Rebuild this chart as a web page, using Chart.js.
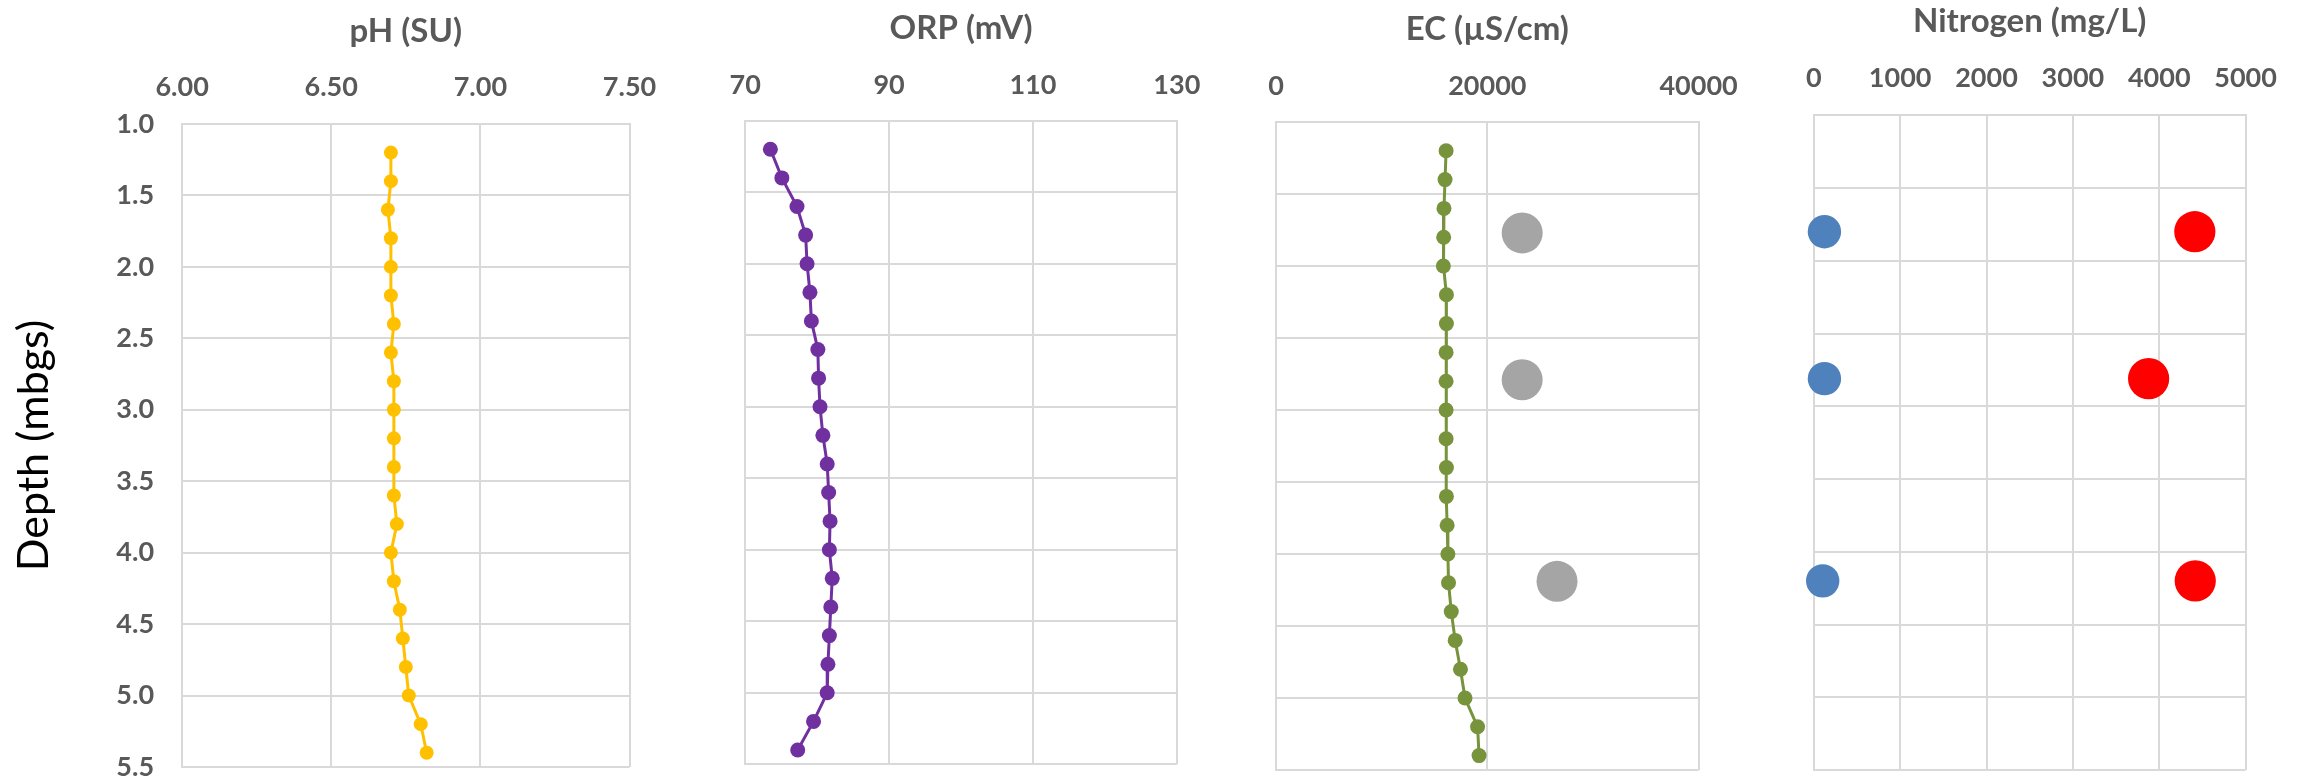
<!DOCTYPE html>
<html>
<head>
<meta charset="utf-8">
<script src="https://cdn.jsdelivr.net/npm/chart.js@4.4.1/dist/chart.umd.min.js"></script>
<style>
  html, body { margin: 0; padding: 0; background: #ffffff; width: 2303px; height: 781px; overflow: hidden; }
  canvas { position: absolute; top: 0; }
</style>
</head>
<body>
<canvas id="phChart" width="788" height="781" style="left:0px;width:788px;height:781px"></canvas>
<canvas id="orpChart" width="500" height="781" style="left:716px;width:500px;height:781px"></canvas>
<canvas id="ecChart" width="500" height="781" style="left:1255px;width:500px;height:781px"></canvas>
<canvas id="nChart" width="480" height="781" style="left:1803px;width:480px;height:781px"></canvas>
<script>
// ---------------- DATA ----------------
const depths = [1.2, 1.4, 1.6, 1.8, 2.0, 2.2, 2.4, 2.6, 2.8, 3.0, 3.2, 3.4, 3.6, 3.8, 4.0, 4.2, 4.4, 4.6, 4.8, 5.0, 5.2, 5.4];
const phValues = [6.70, 6.70, 6.69, 6.70, 6.70, 6.70, 6.71, 6.70, 6.71, 6.71, 6.71, 6.71, 6.71, 6.72, 6.70, 6.71, 6.73, 6.74, 6.75, 6.76, 6.80, 6.82];
const orpValues = [73.5, 75.1, 77.2, 78.4, 78.6, 79.0, 79.2, 80.1, 80.2, 80.4, 80.8, 81.4, 81.6, 81.8, 81.7, 82.1, 81.9, 81.7, 81.5, 81.4, 79.5, 77.3];
const ecValues = [16100, 16000, 15900, 15870, 15840, 16130, 16130, 16100, 16100, 16100, 16100, 16130, 16130, 16200, 16270, 16330, 16590, 16960, 17460, 17890, 19080, 19220];
const ecSampleDepths = [1.77, 2.79, 4.19];
const ecSampleValues = [23300, 23300, 26600];
const nitrogenDepths = [1.80, 2.81, 4.20];
const nitrogenBlueValues = [123, 123, 103];
const nitrogenRedValues = [4412, 3877, 4417];

const depthTicks = [1.0, 1.5, 2.0, 2.5, 3.0, 3.5, 4.0, 4.5, 5.0, 5.5];
const phTicks = [6.00, 6.50, 7.00, 7.50];
const orpTicks = [70, 90, 110, 130];
const ecTicks = [0, 20000, 40000];
const nitrogenTicks = [0, 1000, 2000, 3000, 4000, 5000];

const titles = ['pH (SU)', 'ORP (mV)', 'EC (\u00B5S/cm)', 'Nitrogen (mg/L)'];
const depthTitle = 'Depth (mbgs)';

// ---------------- STYLE ----------------
const FONT = 'Lato, "Open Sans", "Liberation Sans", sans-serif';
const GRID = '#D9D9D9';
const TEXT = '#595959';
const TICK_FONT = { family: FONT, size: 27, weight: 'bold', lineHeight: 1.2 };
const TITLE_FONT = { family: FONT, size: 33, weight: 'bold', lineHeight: 1.2 };

function pts(xs, ys) { return xs.map((v, i) => ({ x: v, y: ys[i] })); }

function lineSet(values, color, radius) {
  return {
    data: pts(values, depths), showLine: true, borderColor: color, borderWidth: 3,
    backgroundColor: color, pointRadius: radius, pointBorderWidth: 0,
    pointBackgroundColor: color, clip: false
  };
}
function dotSet(values, ds, color, radius) {
  return {
    data: pts(values, ds), showLine: false, backgroundColor: color,
    pointRadius: radius, pointBorderWidth: 0, pointBackgroundColor: color, clip: false
  };
}

function makePanel(id, o) {
  const xt = o.ticks;
  new Chart(document.getElementById(id), {
    type: 'scatter',
    data: { datasets: o.datasets },
    options: {
      responsive: false, animation: false, devicePixelRatio: 1,
      events: [],
      layout: { autoPadding: false, padding: { left: o.padLeft, right: o.padRight, top: 0, bottom: o.padBottom } },
      plugins: { legend: { display: false }, tooltip: { enabled: false }, title: { display: false } },
      scales: {
        x: {
          type: 'linear', position: 'top',
          min: xt[0], max: xt[xt.length - 1],
          ticks: { stepSize: xt[1] - xt[0], color: TEXT, font: TICK_FONT, padding: o.tickPad,
                   autoSkip: false, maxRotation: 0, callback: o.fmt },
          grid: { color: GRID, lineWidth: 2, drawTicks: false },
          border: { color: GRID, width: 2 },
          title: { display: true, text: o.title, color: TEXT, font: TITLE_FONT,
                   padding: { top: o.titlePad, bottom: 0 } },
          afterFit(s) { s.height = o.top; s.paddingLeft = 0; s.paddingRight = 0; }
        },
        y: {
          type: 'linear', position: 'left', reverse: true,
          min: depthTicks[0], max: depthTicks[depthTicks.length - 1],
          ticks: { display: o.showY, stepSize: depthTicks[1] - depthTicks[0], color: TEXT, font: TICK_FONT,
                   padding: 28, callback: v => v.toFixed(1) },
          grid: { color: GRID, lineWidth: 2, drawTicks: false },
          border: { color: GRID, width: 2 },
          title: { display: o.showY, text: depthTitle, color: '#000000',
                   font: { family: FONT, size: 43, weight: 'normal', lineHeight: 1.2 },
                   padding: { top: 8.8, bottom: 0 } },
          afterFit(s) { s.width = o.yWidth; s.paddingTop = 0; s.paddingBottom = 0; }
        }
      }
    }
  });
}

makePanel('phChart', {
  title: titles[0], ticks: phTicks, fmt: v => v.toFixed(2),
  padLeft: 0, padRight: 158.5, padBottom: 14, top: 124, titlePad: 11.2, tickPad: 20.2,
  yWidth: 182.1, showY: true,
  datasets: [lineSet(phValues, '#FFC000', 7)]
});
makePanel('orpChart', {
  title: titles[1], ticks: orpTicks, fmt: v => String(v),
  padLeft: 29.2, padRight: 39.2, padBottom: 16.7, top: 120.7, titlePad: 8.2, tickPad: 19.6,
  yWidth: 0, showY: false,
  datasets: [lineSet(orpValues, '#7030A0', 7.5)]
});
makePanel('ecChart', {
  title: titles[2], ticks: ecTicks, fmt: v => String(v),
  padLeft: 21, padRight: 56.4, padBottom: 11, top: 122, titlePad: 9.2, tickPad: 19.2,
  yWidth: 0, showY: false,
  datasets: [lineSet(ecValues, '#77933C', 7.5), dotSet(ecSampleValues, ecSampleDepths, '#A5A5A5', 20.5)]
});
makePanel('nChart', {
  title: titles[3], ticks: nitrogenTicks, fmt: v => String(v),
  padLeft: 10.8, padRight: 37.4, padBottom: 11, top: 115.3, titlePad: 1.2, tickPad: 20.5,
  yWidth: 0, showY: false,
  datasets: [dotSet(nitrogenBlueValues, nitrogenDepths, '#4F81BD', 16.7), dotSet(nitrogenRedValues, nitrogenDepths, '#FF0000', 20.6)]
});
</script>
</body>
</html>
